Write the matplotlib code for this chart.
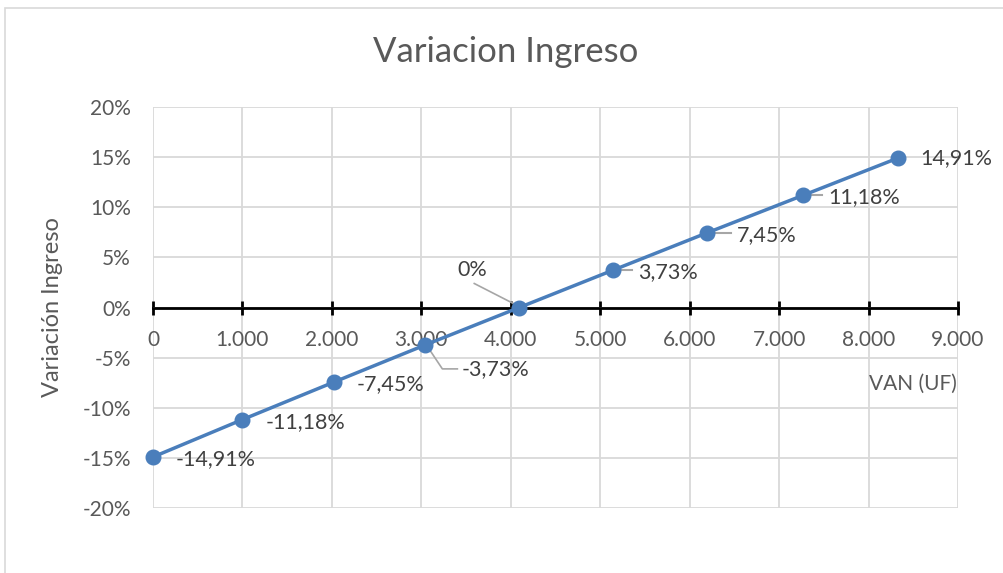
import matplotlib
matplotlib.use("Agg")
import matplotlib.pyplot as plt
from matplotlib.ticker import FuncFormatter, MultipleLocator
from matplotlib.patches import Rectangle

plt.rcParams['font.family'] = ['Lato', 'DejaVu Sans']

# data
van = [0, 1000, 2020, 3045, 4095, 5145, 6195, 7265, 8330]
variacion = [-14.91, -11.18, -7.45, -3.73, 0.0, 3.73, 7.45, 11.18, 14.91]

# label offsets in pixels (dx, dy) and leader-line flag
label_offsets = [(23, -2), (23, -3), (23, -2), (36, -24), (-47, 37), (25, -2), (30, -2), (25, -2), (22, 0)]
leaders = [False, False, False, True, True, True, True, True, False]

gray = '#595959'
blue = '#4A7EBB'

fig = plt.figure(figsize=(10.04, 5.73), dpi=100)
ax = fig.add_axes([153/1004, 1 - 508/573, (958 - 153)/1004, (508 - 107)/573])

ax.plot(van, [v/100 for v in variacion], color=blue, lw=2.5, marker='o', ms=10.5, zorder=5, clip_on=False)

ax.set_xlim(0, 9000)
ax.set_ylim(-0.2, 0.2)
ax.xaxis.set_major_locator(MultipleLocator(1000))
ax.yaxis.set_major_locator(MultipleLocator(0.05))
ax.grid(True, color='#d9d9d9', lw=1.3)
ax.set_axisbelow(True)

for s in ['top', 'right', 'left']:
    ax.spines[s].set_visible(False)
ax.spines['bottom'].set_position(('data', 0))
ax.spines['bottom'].set_color('black')
ax.spines['bottom'].set_linewidth(2)
ax.spines['bottom'].set_zorder(3)

ax.xaxis.set_major_formatter(FuncFormatter(lambda x, p: f"{int(round(x)):,}".replace(',', '.')))
ax.yaxis.set_major_formatter(FuncFormatter(lambda y, p: f"{round(y*100):d}%"))
ax.tick_params(axis='x', direction='inout', length=10, width=2, color='black', pad=11,
               labelsize=15, labelcolor=gray)
ax.tick_params(axis='y', length=0, pad=16, labelsize=15, labelcolor=gray)

ax.set_ylabel('Variación Ingreso', fontsize=17, color=gray, labelpad=14)
ax.text(913, 573 - 384, 'VAN (UF)', transform=None, fontsize=15, color=gray, ha='center', va='center')

for x, v, (dx, dy), lead in zip(van, variacion, label_offsets, leaders):
    txt = "0%" if v == 0 else f"{v:.2f}%".replace('.', ',')
    px, py = ax.transData.transform((x, v/100))
    lx, ly = px + dx, py + dy
    ax.text(lx, ly, txt, transform=None, fontsize=15.5, color='#404040',
            ha='left' if dx > 0 else 'center', va='center', zorder=6)
    if lead:
        if v == 0:
            ax.plot([lx + 2, px - 2], [ly - 13, py + 2], transform=None, color='#a6a6a6', lw=1.2, zorder=4)
        elif v < 0:
            ax.plot([px + 5, px + 17, lx - 4], [py - 6, ly, ly], transform=None, color='#a6a6a6', lw=1.2, zorder=4)
        else:
            ax.plot([px, lx - 6], [py, py], transform=None, color='#a6a6a6', lw=1.5, zorder=4)

fig.text(506/1004, 1 - 52/573, 'Variacion Ingreso', fontsize=25, color=gray, ha='center', va='center')
fig.patches.append(Rectangle((5/1004, -0.1), 1.2, 1.1 - 8/573, transform=fig.transFigure,
                             fill=False, edgecolor='#d9d9d9', lw=1.2))

fig.savefig('out.png', dpi=100)
